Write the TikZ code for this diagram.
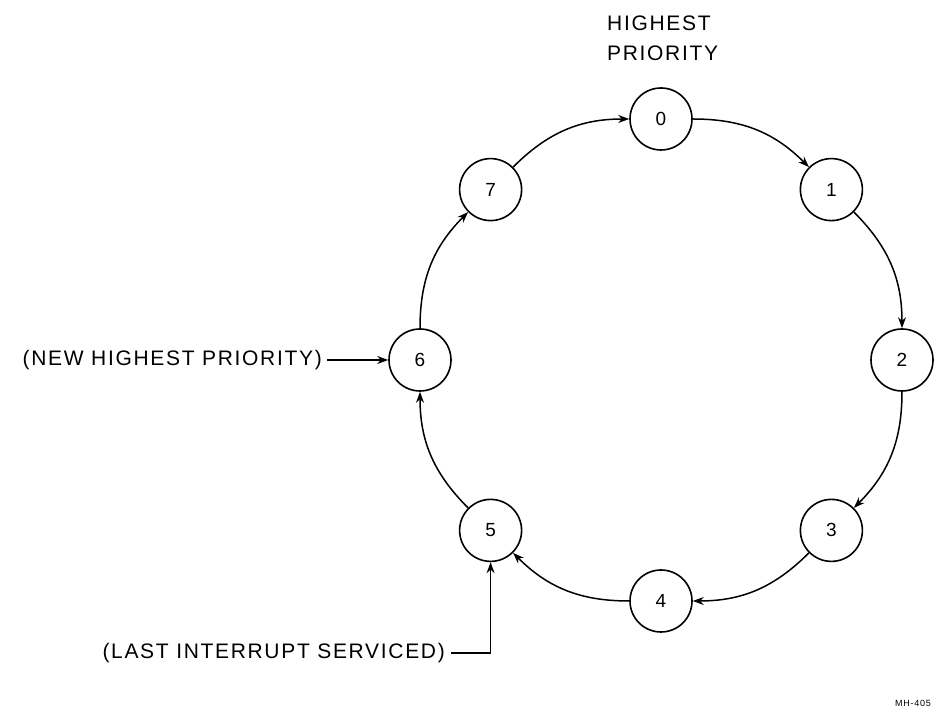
\documentclass[tikz,border=0pt]{standalone}
\usepackage{fontspec}
\setmainfont{Liberation Sans}[LetterSpace=8]
\usetikzlibrary{arrows.meta}
\begin{document}
\begin{tikzpicture}[x=1pt,y=1pt,
  st/.style={circle, draw, line width=1.6pt, minimum size=62pt, inner sep=0pt, font=\fontsize{19}{19}\selectfont},
  arr/.style={line width=1.5pt, -{Stealth[length=11pt,width=8pt]}},
  lbl/.style={font=\fontsize{21}{21}\selectfont, inner sep=0pt}]
\useasboundingbox (0,0) rectangle (935,711);
\node[st] (n0) at (661,592) {0};
\node[st] (n1) at (831.4,521.4) {1};
\node[st] (n2) at (902,351) {2};
\node[st] (n3) at (831.4,180.6) {3};
\node[st] (n4) at (661,110) {4};
\node[st] (n5) at (490.6,180.6) {5};
\node[st] (n6) at (420,351) {6};
\node[st] (n7) at (490.6,521.4) {7};
\draw[arr] (n0) to[bend left=22.5] (n1);
\draw[arr] (n1) to[bend left=22.5] (n2);
\draw[arr] (n2) to[bend left=22.5] (n3);
\draw[arr] (n3) to[bend left=22.5] (n4);
\draw[arr] (n4) to[bend left=22.5] (n5);
\draw[arr] (n5) to[bend left=22.5] (n6);
\draw[arr] (n6) to[bend left=22.5] (n7);
\draw[arr] (n7) to[bend left=22.5] (n0);
\node[lbl, anchor=west] (h1) at (607,688) {HIGHEST};
\node[lbl, anchor=west] (h2) at (607,658) {PRIORITY};
\node[lbl, anchor=east] (newp) at (322,351) {(NEW HIGHEST PRIORITY)};
\draw[arr] (newp.east) ++(5,0) coordinate (a0) (a0) -- (n6);
\node[lbl, anchor=east] (last) at (445,58) {(LAST INTERRUPT SERVICED)};
\coordinate (k) at (n5.south |- last.east);
\draw[arr] ([xshift=6pt]last.east) -- (k) -- (n5.south);
\node[font=\fontsize{9}{9}\selectfont, anchor=east, inner sep=0pt] (mh) at (931,8) {MH-405};
\end{tikzpicture}
\end{document}
